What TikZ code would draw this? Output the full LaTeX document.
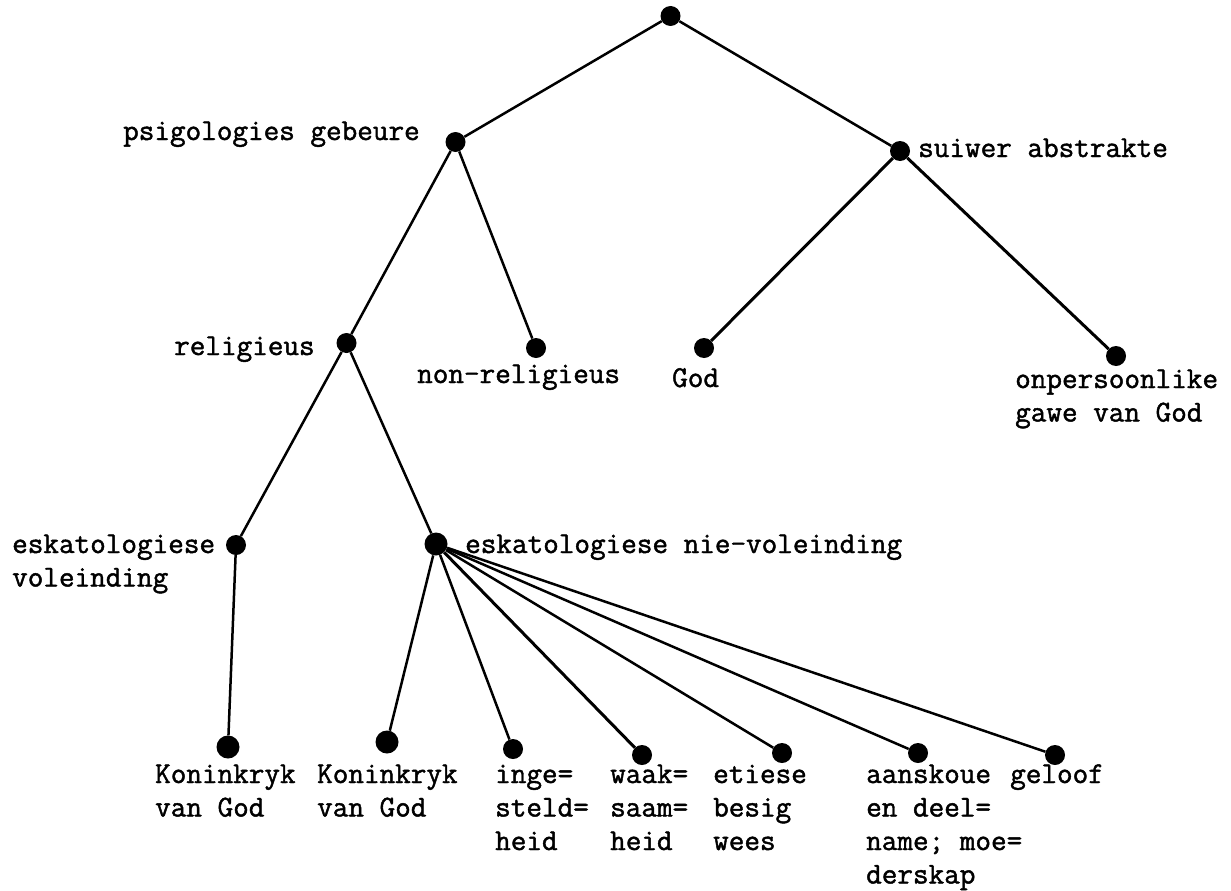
\documentclass[tikz,border=0pt]{standalone}
\usepackage{fontspec}
\newfontfamily\twfamily[FakeBold=1.5]{Latin Modern Mono}
\newcommand{\twfont}{\twfamily\fontsize{30.3}{33.5}\selectfont}
\begin{document}
\begin{tikzpicture}[x=1pt,y=-1pt,
  dot/.style={circle,fill=black,inner sep=0pt,minimum size=20pt},
  bigdot/.style={dot,minimum size=23pt},
  edge/.style={line width=2.5pt},
  heavy/.style={line width=3pt},
  lbl/.style={inner sep=0pt,anchor=base west,align=left,font=\twfont},
]
\useasboundingbox (0,0) rectangle (1231,891);

% tree nodes
\node[dot] (root) at (670.5,16) {};
\node[dot] (psig) at (455.5,142) {};
\node[dot] (suiw) at (900,151) {};
\node[dot] (rel) at (346.5,343) {};
\node[dot] (nonrel) at (536,348) {};
\node[dot] (god) at (704,348) {};
\node[dot] (onp) at (1116,356) {};
\node[dot] (eskv) at (236,545) {};
\node[bigdot] (eskn) at (436,544) {};
\node[bigdot] (kon1) at (228,747) {};
\node[bigdot] (kon2) at (387,742) {};
\node[dot] (inge) at (513,749) {};
\node[dot] (waak) at (642,755) {};
\node[dot] (etie) at (782,753) {};
\node[dot] (aans) at (918,753) {};
\node[dot] (gelo) at (1055,755) {};

% labels (anchored at the baseline of their last line)
\node[lbl] (l-psig) at (123,140) {psigologies gebeure};
\node[lbl] (l-suiw) at (918,157) {suiwer abstrakte};
\node[lbl] (l-rel) at (174,355) {religieus};
\node[lbl] (l-nonrel) at (417,383) {non-religieus};
\node[lbl] (l-god) at (672,387) {God};
\node[lbl] (l-onp) at (1015,421.5) {onpersoonlike\\gawe van God};
\node[lbl] (l-eskv) at (12,586.5) {eskatologiese\\voleinding};
\node[lbl] (l-eskn) at (465,553) {eskatologiese nie-voleinding};
\node[lbl] (l-kon1) at (155,816.5) {Koninkryk\\van God};
\node[lbl] (l-kon2) at (317,816.5) {Koninkryk\\van God};
\node[lbl] (l-inge) at (495,850) {inge=\\steld=\\heid};
\node[lbl] (l-waak) at (610,850) {waak=\\saam=\\heid};
\node[lbl] (l-etie) at (713,850) {etiese\\besig\\wees};
\node[lbl] (l-aans) at (866,883.5) {aanskoue\\en deel=\\name; moe=\\derskap};
\node[lbl] (l-gelo) at (1010,783) {geloof};

% branches
\draw[edge] (root) -- (psig);
\draw[edge] (root) -- (suiw);
\draw[edge] (psig) -- (rel);
\draw[edge] (psig) -- (nonrel);
\draw[heavy] (suiw) -- (god);
\draw[heavy] (suiw) -- (onp);
\draw[edge] (rel) -- (eskv);
\draw[edge] (rel) -- (eskn);
\draw[edge] (eskv) -- (kon1);
\draw[edge] (eskn) -- (kon2);
\draw[edge] (eskn) -- (inge);
\draw[heavy] (eskn) -- (waak);
\draw[edge] (eskn) -- (etie);
\draw[edge] (eskn) -- (aans);
\draw[edge] (eskn) -- (gelo);
\end{tikzpicture}
\end{document}
